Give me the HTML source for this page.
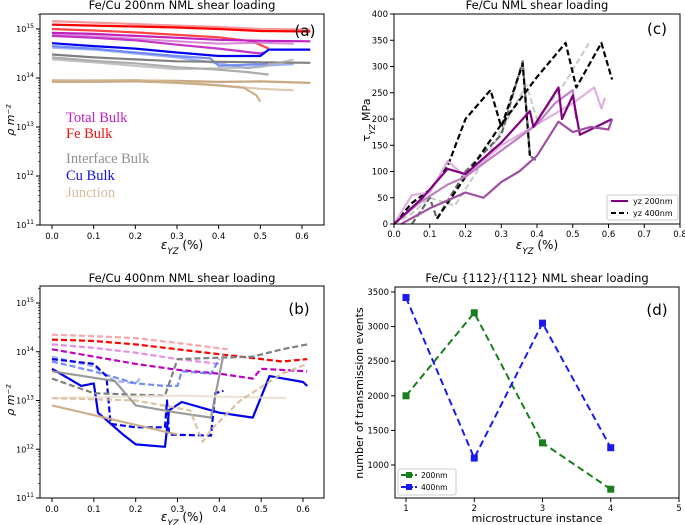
<!DOCTYPE html>
<html><head><meta charset="utf-8"><style>
body{margin:0;background:#fff;}
svg{display:block;font-family:"DejaVu Sans","Liberation Sans",sans-serif;}
</style></head><body>
<svg id="fig" width="685" height="525" viewBox="0 0 685 525" xmlns="http://www.w3.org/2000/svg"></svg>
<script>
// ---------- DATA ----------
const aSeries = [
 {c:'#f08080',o:0.8,x:[0,0.1,0.2,0.3,0.4,0.5,0.62],y:[15.16,15.13,15.1,15.07,15.04,15.0,14.99]},
 {c:'#ff0000',o:1,x:[0,0.1,0.2,0.3,0.4,0.5,0.62],y:[15.09,15.07,15.05,15.03,15.0,14.96,14.95]},
 {c:'#ff3030',o:0.9,x:[0,0.1,0.2,0.3,0.4,0.48,0.52],y:[15.0,14.97,14.93,14.88,14.83,14.75,14.6]},
 {c:'#c020c0',o:1,x:[0,0.1,0.2,0.3,0.4,0.5,0.62],y:[14.92,14.9,14.86,14.82,14.78,14.76,14.75]},
 {c:'#d070d0',o:0.8,x:[0,0.1,0.2,0.3,0.4,0.5,0.58],y:[14.88,14.85,14.8,14.75,14.7,14.72,14.7]},
 {c:'#c020c0',o:0.9,x:[0,0.1,0.2,0.3,0.4,0.5,0.51],y:[14.86,14.82,14.77,14.68,14.6,14.5,14.52]},
 {c:'#0000ee',o:1,x:[0,0.1,0.2,0.3,0.4,0.5,0.52,0.62],y:[14.71,14.65,14.6,14.52,14.45,14.45,14.58,14.58]},
 {c:'#4060ee',o:0.7,x:[0,0.1,0.2,0.3,0.38,0.4,0.5,0.52],y:[14.65,14.6,14.52,14.45,14.4,14.25,14.28,14.3]},
 {c:'#6080f0',o:0.6,x:[0,0.1,0.2,0.3,0.4,0.47,0.5,0.58],y:[14.62,14.58,14.5,14.42,14.3,14.2,14.25,14.28]},
 {c:'#808080',o:1,x:[0,0.1,0.2,0.3,0.4,0.5,0.62],y:[14.48,14.42,14.38,14.34,14.33,14.32,14.31]},
 {c:'#999999',o:0.8,x:[0,0.1,0.2,0.3,0.4,0.47,0.52],y:[14.42,14.35,14.3,14.22,14.17,14.12,14.07]},
 {c:'#aaaaaa',o:0.7,x:[0,0.1,0.2,0.3,0.4,0.5,0.58],y:[14.38,14.32,14.25,14.18,14.2,14.22,14.38]},
 {c:'#c8a882',o:1,x:[0,0.1,0.2,0.3,0.4,0.5,0.62],y:[13.95,13.95,13.95,13.94,13.92,13.93,13.9]},
 {c:'#d8bc9a',o:0.8,x:[0,0.1,0.2,0.3,0.4,0.5,0.58],y:[13.93,13.95,13.96,13.92,13.85,13.78,13.75]},
 {c:'#c8a882',o:0.9,x:[0,0.1,0.2,0.3,0.4,0.46,0.49,0.5],y:[13.92,13.92,13.93,13.9,13.85,13.8,13.65,13.52]}
];
const bSeries = [
 {c:'#f4a0a0',o:0.9,d:1,x:[0,0.1,0.2,0.3,0.42],y:[14.35,14.32,14.28,14.18,14.05]},
 {c:'#ff0000',o:1,d:1,x:[0,0.1,0.2,0.3,0.4,0.55,0.61],y:[14.25,14.22,14.15,14.05,13.95,13.8,13.85]},
 {c:'#e070e0',o:0.8,d:1,x:[0,0.1,0.2,0.3,0.4],y:[14.15,14.08,13.98,13.85,13.75]},
 {c:'#c000c0',o:1,d:1,x:[0,0.1,0.2,0.3,0.4,0.48,0.5,0.61],y:[14.05,13.9,13.75,13.63,13.55,13.45,13.65,13.6]},
 {c:'#8090f0',o:0.7,d:1,x:[0,0.1,0.15,0.2,0.21],y:[13.9,13.7,13.4,13.35,13.45]},
 {c:'#5070f0',o:0.8,d:1,x:[0,0.1,0.2,0.27,0.3,0.31,0.38,0.4],y:[13.8,13.6,13.35,13.3,13.3,13.6,13.55,13.85]},
 {c:'#0000ee',o:1,d:1,x:[0,0.1,0.13,0.14,0.2,0.27,0.275,0.28,0.38,0.39,0.41],y:[13.85,13.75,13.5,12.52,12.45,12.45,13.0,12.3,12.28,13.15,13.2]},
 {c:'#0000ee',o:1,d:0,x:[0,0.07,0.1,0.11,0.17,0.2,0.27,0.28,0.31,0.4,0.48,0.52,0.6,0.61],y:[13.65,13.3,13.35,12.75,12.3,12.1,12.05,12.8,12.97,12.75,12.65,13.5,13.38,13.3]},
 {c:'#808080',o:1,d:1,x:[0,0.1,0.2,0.27,0.3,0.48,0.55,0.61],y:[13.45,13.15,13.12,13.1,13.85,13.9,14.05,14.15]},
 {c:'#909090',o:0.9,d:0,x:[0,0.15,0.2,0.3,0.38,0.41],y:[13.6,13.4,12.9,12.75,12.65,13.95]},
 {c:'#e8dccc',o:0.8,d:0,x:[0,0.3,0.56],y:[13.05,13.1,13.05]},
 {c:'#c8a882',o:0.9,d:0,x:[0,0.15,0.3],y:[12.9,12.6,12.3]},
 {c:'#d8bc9a',o:0.9,d:1,x:[0,0.2,0.33,0.36,0.38,0.45,0.55,0.61],y:[13.05,13.0,12.8,12.15,12.4,13.0,13.55,13.75]}
];
const cSeries = [
 {c:'#cccccc',o:1,d:1,x:[0,0.05,0.1,0.17,0.27,0.37,0.4,0.47,0.55],y:[0,20,50,35,140,265,200,260,350]},
 {c:'#666666',o:1,d:1,x:[0.05,0.1,0.12,0.2,0.3,0.36,0.38,0.4],y:[0,50,10,100,170,310,130,120]},
 {c:'#000000',o:1,d:1,x:[0,0.05,0.1,0.15,0.2,0.27,0.3,0.36,0.38],y:[0,40,65,110,200,255,185,305,130]},
 {c:'#000000',o:1,d:1,x:[0.12,0.2,0.3,0.4,0.48,0.51,0.58,0.61],y:[10,90,190,280,345,260,345,275]},
 {c:'#e0b0e0',o:1,d:0,x:[0,0.05,0.1,0.15,0.2,0.3,0.4,0.5,0.56,0.58,0.59],y:[0,55,60,120,90,150,190,230,260,220,240]},
 {c:'#c080c0',o:1,d:0,x:[0,0.07,0.15,0.2,0.3,0.4,0.45,0.5,0.51],y:[0,40,75,90,140,190,230,255,200]},
 {c:'#800080',o:1,d:0,x:[0,0.08,0.15,0.2,0.3,0.38,0.39,0.46,0.47,0.5,0.52,0.61],y:[0,50,105,95,155,215,185,260,200,245,170,200]},
 {c:'#a050a0',o:1,d:0,x:[0.02,0.1,0.2,0.25,0.3,0.35,0.4,0.46,0.5,0.55,0.6,0.61],y:[0,30,60,50,80,100,130,195,175,185,180,200]}
];
const dCats = [1,2,3,4];
const d200 = [2000,3200,1320,650];
const d400 = [3420,1100,3050,1250];
const logTicks = [11,12,13,14,15];
const aXTicks = [0,0.1,0.2,0.3,0.4,0.5,0.6];
const cXTicks = [0,0.1,0.2,0.3,0.4,0.5,0.6,0.7,0.8];
const cYTicks = [0,50,100,150,200,250,300,350,400];
const dXTicks = [1,2,3,4,5];
const dYTicks = [1000,1500,2000,2500,3000,3500];

// ---------- DRAW ----------
const svg = document.getElementById('fig');
const NS = 'http://www.w3.org/2000/svg';
function el(tag, attrs, parent){const e=document.createElementNS(NS,tag);for(const k in attrs)e.setAttribute(k,attrs[k]);(parent||svg).appendChild(e);return e;}
function txt(s,x,y,size,anchor,parent,extra){const t=el('text',Object.assign({x:x,y:y,'font-size':size,'text-anchor':anchor||'middle',fill:'#000'},extra||{}),parent);t.textContent=s;return t;}
function subTxt(main,sub,rest,x,y,size,extra){
  const t=el('text',Object.assign({x:x,y:y,'font-size':size,'text-anchor':'middle',fill:'#000'},extra||{}));
  const a=el('tspan',{'font-style':'italic'},t);a.textContent=main;
  const b=el('tspan',{'font-size':size*0.72,'baseline-shift':'sub','font-style':'italic'},t);b.textContent=sub;
  const c=el('tspan',{},t);c.textContent=rest;return t;}
function lin(d0,d1,r0,r1){return v=>r0+(v-d0)*(r1-r0)/(d1-d0);}
function frame(x0,y0,x1,y1,name){
  const r=el('rect',{x:x0,y:y0,width:x1-x0,height:y1-y0,fill:'none',stroke:'#000','stroke-width':1});
  
  
}
function logAxis(sx,sy,x0,y1){
  logTicks.forEach(p=>{
    const y=sy(p);
    el('line',{x1:x0-4,y1:y,x2:x0,y2:y,stroke:'#000'});
    const t=el('text',{x:x0-6,y:y+3,'font-size':8,'text-anchor':'end'});
    t.textContent='10';
    const s=el('tspan',{dy:-4,'font-size':6});s.textContent=p;t.appendChild(s);
    
    
    for(let m=2;m<10;m++){const ym=sy(p+Math.log10(m));if(ym>sy(15.35)){el('line',{x1:x0-2,y1:ym,x2:x0,y2:ym,stroke:'#000','stroke-width':0.6});}}
  });
  aXTicks.forEach(v=>{const x=sx(v);el('line',{x1:x,y1:y1,x2:x,y2:y1+4,stroke:'#000'});
    const t=txt(v.toFixed(1),x,y1+14,8.5,'middle');
    
    });
}
function drawSeries(list,sx,sy,name){
  list.forEach((s,i)=>{
    let d='';s.x.forEach((xv,j)=>{d+=(j?'L':'M')+sx(xv).toFixed(1)+','+sy(s.y[j]).toFixed(1);});
    const p=el('path',{d:d,fill:'none',stroke:s.c,'stroke-opacity':s.o,'stroke-width':2.2,'stroke-linejoin':'round'});
    if(s.d) p.setAttribute('stroke-dasharray','6,3');
    
    
  });
}

// Panel (a)
{
  const sx=lin(0,0.6,52,302), sy=lin(11,15,225,29);
  const t=txt('Fe/Cu 200nm NML shear loading',182,9,11.5);
  
  drawSeries(aSeries,sx,sy,'panel-a-line');
  frame(40,14,324,225,'panel-a-plot-area');
  logAxis(sx,sy,40,225);
  const lab=txt('(a)',305,36,15,'middle');
  
  const yl=txt('ρ m⁻²',14,120,11,'middle',null,{transform:'rotate(-90 14 120)','font-style':'italic'});
  
  const xl=subTxt('ε','YZ',' (%)',182,249,12);
  
  const leg=[['Total Bulk','#c020c0',122],['Fe Bulk','#ee1111',138],['Interface Bulk','#909090',163],['Cu Bulk','#1111ee',180],['Junction','#d8bc9a',197]];
  leg.forEach(l=>{const e=txt(l[0],66,l[2],14.5,'start',null,{fill:l[1],'font-family':'"Liberation Serif",serif'});
    });
}
// Panel (b)
{
  const sx=lin(0,0.6,52,303), sy=lin(11,15,498,303);
  const t=txt('Fe/Cu 400nm NML shear loading',182,282,11.5);
  
  drawSeries(bSeries,sx,sy,'panel-b-line');
  frame(40,286,324,498,'panel-b-plot-area');
  logAxis(sx,sy,40,498);
  const lab=txt('(b)',299,314,15,'middle');
  
  const yl=txt('ρ m⁻²',14,400,11,'middle',null,{transform:'rotate(-90 14 400)','font-style':'italic'});
  
  const xl=subTxt('ε','YZ',' (%)',182,521,12);
  
}
// Panel (c)
{
  const sx=lin(0,0.8,394,680), sy=lin(0,400,224,14);
  const t=txt('Fe/Cu NML shear loading',537,9,11.5);
  
  drawSeries(cSeries,sx,sy,'panel-c-line');
  frame(394,14,680,224,'panel-c-plot-area');
  cYTicks.forEach(v=>{const y=sy(v);el('line',{x1:390,y1:y,x2:394,y2:y,stroke:'#000'});
    const e=txt(String(v),388,y+3,8.5,'end');});
  cXTicks.forEach(v=>{const x=sx(v);el('line',{x1:x,y1:224,x2:x,y2:228,stroke:'#000'});
    const e=txt(v.toFixed(1),x,237,8.5);});
  const lab=txt('(c)',657,34,15);
  
  const yl=el('text',{x:370,y:120,'font-size':11,'text-anchor':'middle',transform:'rotate(-90 370 120)'});
  const y1=el('tspan',{},yl);y1.textContent='τ';
  const y2=el('tspan',{'font-size':8,'baseline-shift':'sub','font-style':'italic'},yl);y2.textContent='YZ';
  const y3=el('tspan',{},yl);y3.textContent=' MPa';
  
  const xl=subTxt('ε','YZ',' (%)',537,249,12);
  
  const lg=el('g',{});
  
  el('rect',{x:607,y:195,width:71,height:25,fill:'#fff',stroke:'#ccc',rx:2},lg);
  el('line',{x1:611,y1:201,x2:628,y2:201,stroke:'#800080','stroke-width':2},lg);
  el('line',{x1:611,y1:213,x2:628,y2:213,stroke:'#000','stroke-width':2,'stroke-dasharray':'5,3'},lg);
  txt('yz 200nm',633,204,8,'start',lg);
  txt('yz 400nm',633,216,8,'start',lg);
}
// Panel (d)
{
  const sx=lin(1,5,406,679), sy=lin(1000,3500,465,292);
  const t=txt('Fe/Cu {112}/{112} NML shear loading',537,282,11.5);
  
  frame(395,287,679,498,'panel-d-plot-area');
  dYTicks.forEach(v=>{const y=sy(v);el('line',{x1:391,y1:y,x2:395,y2:y,stroke:'#000'});
    const e=txt(String(v),389,y+3,8.5,'end');});
  dXTicks.forEach(v=>{const x=sx(v);el('line',{x1:x,y1:498,x2:x,y2:502,stroke:'#000'});
    const e=txt(String(v),x,511,8.5);});
  [[d200,'#1a7f1a','series-200nm'],[d400,'#1a1aee','series-400nm']].forEach(s=>{
    let d='';dCats.forEach((c,j)=>{d+=(j?'L':'M')+sx(c)+','+sy(s[0][j]);});
    const p=el('path',{d:d,fill:'none',stroke:s[1],'stroke-width':2,'stroke-dasharray':'7,4'});
    
    dCats.forEach((c,j)=>{const m=el('rect',{x:sx(c)-3.5,y:sy(s[0][j])-3.5,width:7,height:7,fill:s[1]});
      });
  });
  const lab=txt('(d)',657,315,15);
  
  const yl=txt('number of transmission events',363,393,11,'middle',null,{transform:'rotate(-90 363 393)'});
  
  const xl=txt('microstructure instance',537,522,11);
  
  const lg=el('g',{});
  
  el('rect',{x:398,y:469,width:58,height:26,fill:'#fff',stroke:'#ccc',rx:2},lg);
  el('line',{x1:401,y1:475,x2:417,y2:475,stroke:'#1a7f1a','stroke-width':2,'stroke-dasharray':'5,2'},lg);
  el('rect',{x:406,y:472,width:6,height:6,fill:'#1a7f1a'},lg);
  el('line',{x1:401,y1:487,x2:417,y2:487,stroke:'#1a1aee','stroke-width':2,'stroke-dasharray':'5,2'},lg);
  el('rect',{x:406,y:484,width:6,height:6,fill:'#1a1aee'},lg);
  txt('200nm',421,478,7.5,'start',lg);
  txt('400nm',421,490,7.5,'start',lg);
}
</script>
</body></html>
